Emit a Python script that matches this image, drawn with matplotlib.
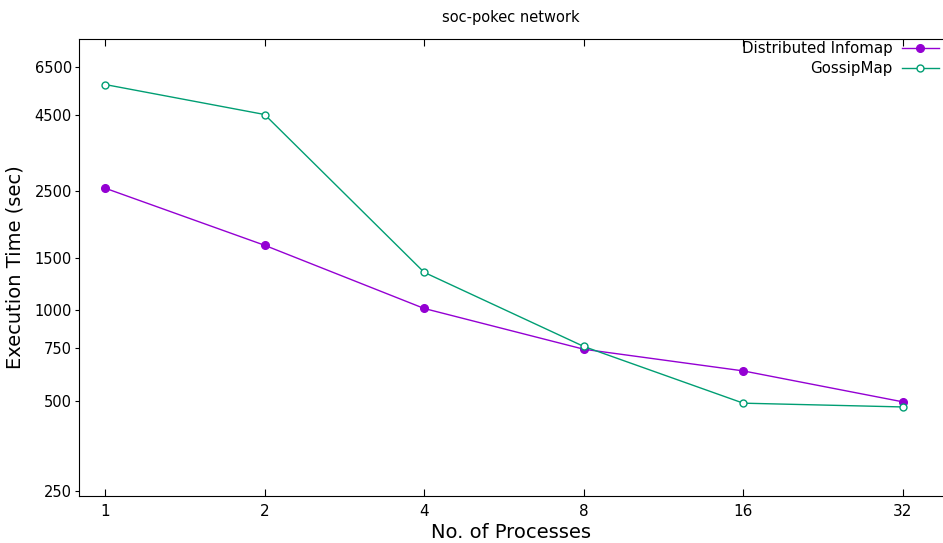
import matplotlib
matplotlib.use("Agg")
from matplotlib import pyplot as plt
from matplotlib.ticker import FixedLocator, NullLocator, FixedFormatter

# data
procs = [1, 2, 4, 8, 16, 32]
infomap = [2560, 1650, 1015, 742, 628, 495]
gossip = [5680, 4510, 1340, 758, 490, 476]
yticks = [250, 500, 750, 1000, 1500, 2500, 4500, 6500]

plt.rcParams['font.family'] = ['DejaVu Sans']

fig = plt.figure(figsize=(9.43, 5.43), dpi=100)
ax = fig.add_axes([79/943, 47/543, 1 - 79/943, 457/543])

ax.plot(procs, infomap, color='#9400d3', lw=1, marker='o', ms=5.5,
        label='Distributed Infomap')
ax.plot(procs, gossip, color='#009e73', lw=1, marker='o', ms=5,
        mfc='white', mew=1, label='GossipMap')

ax.set_xscale('log', base=2)
ax.set_yscale('log')
ax.set_xlim(0.893, 38.1)
ax.set_ylim(240, 8060)

ax.xaxis.set_major_locator(FixedLocator(procs))
ax.xaxis.set_major_formatter(FixedFormatter([str(p) for p in procs]))
ax.xaxis.set_minor_locator(NullLocator())
ax.yaxis.set_major_locator(FixedLocator(yticks))
ax.yaxis.set_major_formatter(FixedFormatter([str(t) for t in yticks]))
ax.yaxis.set_minor_locator(NullLocator())

ax.tick_params(axis='x', direction='in', top=True, length=5, labelsize=11, pad=6)
ax.tick_params(axis='y', direction='out', length=3, labelsize=10.5, pad=2)

ax.spines['right'].set_visible(False)

ax.set_title('soc-pokec network', fontsize=10.5, pad=12)
ax.set_xlabel('No. of Processes', fontsize=14, labelpad=3)
ax.set_ylabel('Execution Time (sec)', fontsize=14, labelpad=7)

leg = ax.legend(loc='upper right', markerfirst=False, frameon=False,
                fontsize=10.8, handlelength=2.5, borderaxespad=0,
                borderpad=0.15, labelspacing=0.33, handletextpad=0.6,
                bbox_to_anchor=(0.998, 1.0))
for t in leg.get_texts():
    t.set_ha('right')

fig.savefig('out.png', dpi=100)
